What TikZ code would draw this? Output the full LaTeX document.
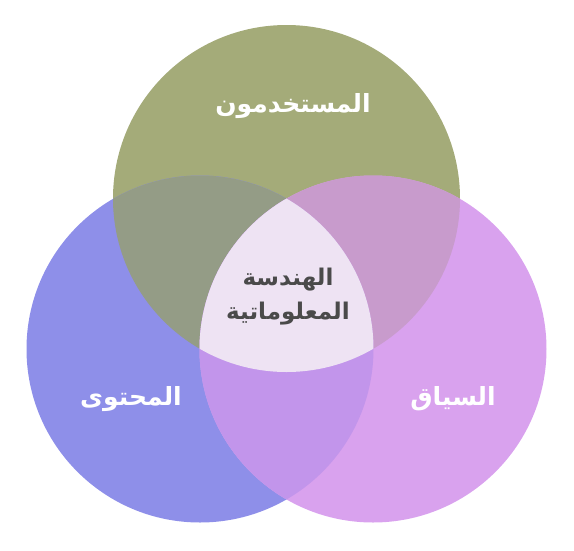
\documentclass[tikz,border=0pt]{standalone}
\usepackage{fontspec}
\TeXXeTstate=1
\newfontfamily\arabicfont[Script=Arabic]{DejaVu Sans}
\definecolor{cUser}{HTML}{A4AB79}
\definecolor{cContent}{HTML}{8E8FE9}
\definecolor{cContext}{HTML}{D9A2EE}
\definecolor{cUC}{HTML}{949C86}
\definecolor{cUX}{HTML}{C89BCC}
\definecolor{cCX}{HTML}{C295EB}
\definecolor{cAll}{HTML}{EEE3F3}
\definecolor{cDark}{HTML}{4A4A4A}
\begin{document}
\begin{tikzpicture}[x=1pt,y=-1pt,
  lbl/.style={text=white,font=\arabicfont\bfseries\fontsize{25}{30}\selectfont,inner sep=0pt},
  mid/.style={text=cDark,font=\arabicfont\bfseries\fontsize{23}{34}\selectfont,align=center,inner sep=0pt}]
\useasboundingbox (0,0) rectangle (574,550);
\def\R{173.5pt}
\coordinate (T) at (286.5,198.5);
\coordinate (L) at (200,349);
\coordinate (Rc) at (373,349);
\fill[cUser] (T) circle[radius=\R];
\fill[cContent] (L) circle[radius=\R];
\fill[cContext] (Rc) circle[radius=\R];
\begin{scope}
  \clip (T) circle[radius=\R];
  \fill[cUC] (L) circle[radius=\R];
  \fill[cUX] (Rc) circle[radius=\R];
\end{scope}
\begin{scope}
  \clip (L) circle[radius=\R];
  \fill[cCX] (Rc) circle[radius=\R];
\end{scope}
\begin{scope}
  \clip (T) circle[radius=\R];
  \clip (L) circle[radius=\R];
  \fill[cAll] (Rc) circle[radius=\R];
\end{scope}
\node[lbl] (users) at (293,106) {\beginR المستخدمون\endR};
\node[lbl] (content) at (131,399) {\beginR المحتوى\endR};
\node[lbl] (context) at (453,399) {\beginR السياق\endR};
\node[mid] (ia) at (288,297) {\beginR الهندسة\endR\\\beginR المعلوماتية\endR};
\end{tikzpicture}
\end{document}
